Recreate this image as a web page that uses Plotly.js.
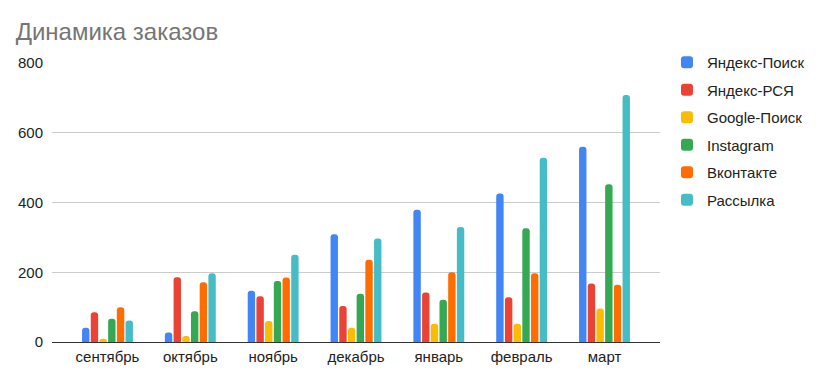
<!DOCTYPE html>
<html><head><meta charset="utf-8">
<script src="https://cdn.plot.ly/plotly-3.0.1.min.js"></script>
<style>html,body{margin:0;padding:0;background:#fff}</style>
</head><body>
<div id="chart" style="width:823px;height:380px"></div>
<script>
const months = ["сентябрь","октябрь","ноябрь","декабрь","январь","февраль","март"];
const seriesNames = ["Яндекс-Поиск","Яндекс-РСЯ","Google-Поиск","Instagram","Вконтакте","Рассылка"];
const yandexSearch = [41, 27, 147, 309, 379, 426, 560];
const yandexRsya   = [85, 186, 131, 103, 142, 128, 168];
const googleSearch = [9, 17, 60, 41, 52, 52, 96];
const instagram    = [67, 88, 175, 138, 121, 326, 452];
const vkontakte    = [100, 171, 185, 236, 200, 197, 164];
const rassylka     = [62, 197, 250, 297, 330, 528, 708];
const colors = ["#4285F4","#EA4335","#FBBC04","#34A853","#FF6D01","#46BDC6"];
const values = [yandexSearch, yandexRsya, googleSearch, instagram, vkontakte, rassylka];

const traces = values.map((v,i)=>({
  type:"bar", x: months, y: v, name: seriesNames[i],
  marker:{color: colors[i]}, legendgroup:"g"+i,
  hoverinfo:"x+y+name"
}));
const font = "Liberation Sans, Arial, sans-serif";
const layout = {
  width:823, height:380,
  margin:{l:52, r:163, t:63, b:38},
  paper_bgcolor:"#fff", plot_bgcolor:"#fff",
  font:{family:font, size:15, color:"#222"},
  title:{text:"Динамика заказов", x:0.019, xanchor:"left", y:0.918, yanchor:"middle",
         font:{family:font, size:24, color:"#757575"}},
  barmode:"group", bargap:0.37, bargroupgap:0.15, barcornerradius:4,
  xaxis:{range:[-0.67, 6.67], showgrid:false, zeroline:false, showline:false,
         ticks:"", ticklabelstandoff:4, tickfont:{size:15, color:"#222"}, fixedrange:true},
  yaxis:{range:[0,800], tickvals:[0,200,400,600,800], showgrid:true, gridcolor:"#cccccc",
         gridwidth:1, zeroline:true, zerolinecolor:"#333", zerolinewidth:1,
         showline:false, ticks:"", ticklabelstandoff:8, tickfont:{size:15, color:"#222"}},
  showlegend:true,
  legend:{x:1.0115, xanchor:"left", y:1.061, yanchor:"top", traceorder:"grouped",
          tracegroupgap:5, font:{size:15, color:"#222"}, itemwidth:30}
};
Plotly.newPlot("chart", traces, layout, {displayModeBar:false, staticPlot:true});
</script>
</body></html>
